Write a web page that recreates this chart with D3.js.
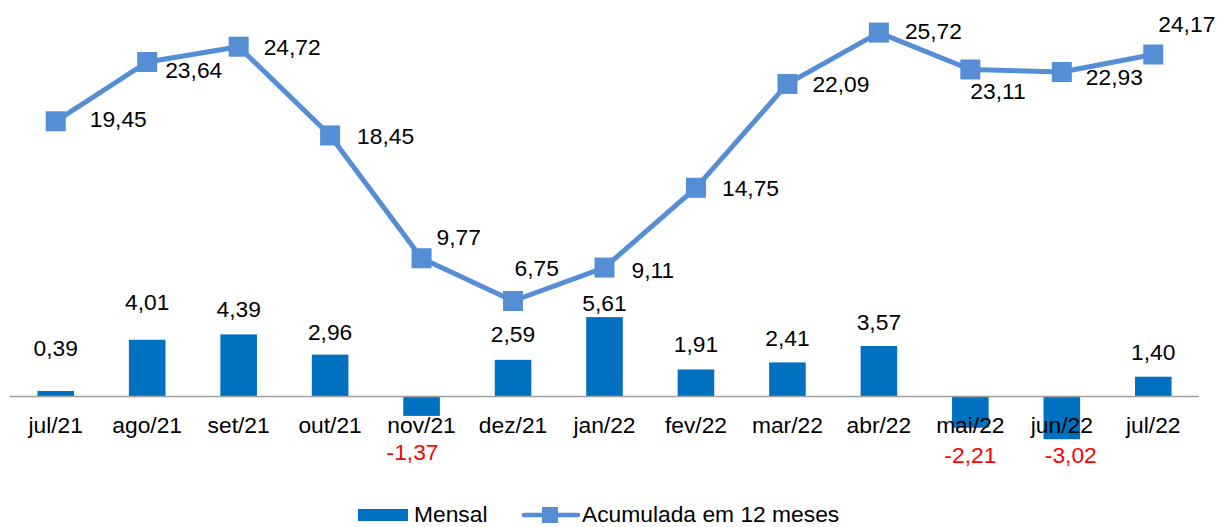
<!DOCTYPE html>
<html>
<head>
<meta charset="utf-8">
<script src="https://cdn.jsdelivr.net/npm/d3@7"></script>
<style>
  body { margin: 0; background: #fff; }
  svg { display: block; font-family: "Liberation Sans", Arial, sans-serif; }
</style>
</head>
<body>
<script>
// data
let months = ["jul/21", "ago/21", "set/21", "out/21", "nov/21", "dez/21", "jan/22",
  "fev/22", "mar/22", "abr/22", "mai/22", "jun/22", "jul/22"];
let mensal = [0.39, 4.01, 4.39, 2.96, -1.37, 2.59, 5.61, 1.91, 2.41, 3.57, -2.21, -3.02, 1.40];
let acumulada = [19.45, 23.64, 24.72, 18.45, 9.77, 6.75, 9.11, 14.75, 22.09, 25.72, 23.11, 22.93, 24.17];
let legendLabels = ["Mensal", "Acumulada em 12 meses"];

// set the dimension variables
let width = 1219;
let height = 527;
let zeroY = 396.5;
let pxPerUnit = 14.15;
let fontSize = 22.8;

let barColour = "#0070C0";
let lineColour = "#558ED5";

// label nudges, like the hand-moved labels in the original
let barLabelOffsets = [[0, -43], [0, -38], [0, -25], [0, -23], [-9, 36], [0, -26], [0, -14.5],
  [0, -25], [0, -24.5], [0, -24], [0, 27], [9, 16], [0, -24.5]];
let lineLabelOffsets = [[34, -2], [18, 8], [25, 0], [27, 1], [15, -21], [1.5, -33], [27, 2],
  [26, 0], [25, 0], [26, -2], [0, 22], [24, 5], [5, -30]];

let fmt = (v) => v.toFixed(2).replace(".", ",");

let svg = d3
  .select("body")
  .append("svg")
  .attr("width", width)
  .attr("height", height);

let x = d3.scalePoint().domain(months).range([10, 1199]).padding(0.5);
let barWidth = x.step() * 0.4;

let y = d3
  .scaleLinear()
  .domain([-4, 27])
  .range([zeroY + 4 * pxPerUnit, zeroY - 27 * pxPerUnit]);

let rows = months.map((m, i) => ({ month: m, mensal: mensal[i], acum: acumulada[i], i: i }));

// bars
svg
  .append("g")
  .selectAll("rect")
  .data(rows)
  .join("rect")
  .attr("x", (d) => x(d.month) - barWidth / 2)
  .attr("y", (d) => y(Math.max(0, d.mensal)))
  .attr("width", barWidth)
  .attr("height", (d) => Math.abs(y(d.mensal) - y(0)))
  .attr("fill", barColour);

// axis line
svg
  .append("line")
  .attr("x1", 10)
  .attr("x2", 1199)
  .attr("y1", y(0))
  .attr("y2", y(0))
  .attr("stroke", "#A0A0A0")
  .attr("stroke-width", 1.5);

// month labels
svg
  .append("g")
  .attr("text-anchor", "middle")
  .attr("font-size", fontSize)
  .selectAll("text")
  .data(months)
  .join("text")
  .attr("x", (d) => x(d))
  .attr("y", 433)
  .attr("fill", "#000")
  .text((d) => d);

// line series
let line = d3
  .line()
  .x((d) => x(d.month))
  .y((d) => y(d.acum));

svg
  .append("path")
  .datum(rows)
  .attr("d", line)
  .attr("fill", "none")
  .attr("stroke", lineColour)
  .attr("stroke-width", 5)
  .attr("stroke-linejoin", "round");

svg
  .append("g")
  .selectAll("rect")
  .data(rows)
  .join("rect")
  .attr("x", (d) => x(d.month) - 10)
  .attr("y", (d) => y(d.acum) - 10)
  .attr("width", 20)
  .attr("height", 20)
  .attr("fill", lineColour);

// bar value labels
svg
  .append("g")
  .attr("text-anchor", "middle")
  .attr("font-size", fontSize)
  .selectAll("text")
  .data(rows)
  .join("text")
  .attr("x", (d) => x(d.month) + barLabelOffsets[d.i][0])
  .attr("y", (d) => y(d.mensal) + barLabelOffsets[d.i][1])
  .attr("dy", "0.35em")
  .attr("fill", (d) => (d.mensal < 0 ? "#FF0000" : "#000"))
  .text((d) => fmt(d.mensal));

// line value labels
svg
  .append("g")
  .attr("text-anchor", "start")
  .attr("font-size", fontSize)
  .selectAll("text")
  .data(rows)
  .join("text")
  .attr("x", (d) => x(d.month) + lineLabelOffsets[d.i][0])
  .attr("y", (d) => y(d.acum) + lineLabelOffsets[d.i][1])
  .attr("dy", "0.35em")
  .attr("fill", "#000")
  .text((d) => fmt(d.acum));

// legend (kept a touch above the bottom edge so the text is not clipped)
let legend = svg.append("g").attr("font-size", fontSize);

legend
  .append("rect")
  .attr("x", 358)
  .attr("y", 509)
  .attr("width", 50)
  .attr("height", 12)
  .attr("fill", barColour);

legend
  .append("text")
  .attr("x", 414)
  .attr("y", 521.5)
  .text(legendLabels[0]);

legend
  .append("line")
  .attr("x1", 524)
  .attr("x2", 578)
  .attr("y1", 515)
  .attr("y2", 515)
  .attr("stroke", lineColour)
  .attr("stroke-width", 4.5)
  .attr("stroke-linecap", "round");

legend
  .append("rect")
  .attr("x", 542)
  .attr("y", 507)
  .attr("width", 16)
  .attr("height", 16)
  .attr("fill", lineColour);

legend
  .append("text")
  .attr("x", 582)
  .attr("y", 521.5)
  .text(legendLabels[1]);
</script>
</body>
</html>
